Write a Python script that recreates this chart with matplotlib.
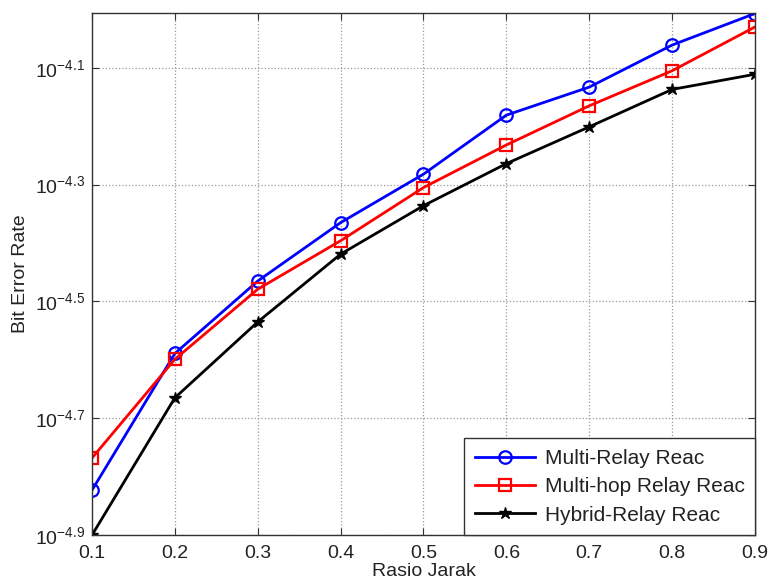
import matplotlib
matplotlib.use("Agg")
import matplotlib.pyplot as plt
from matplotlib.ticker import FixedLocator, NullLocator, FixedFormatter

plt.rcParams['font.family'] = ['Liberation Sans', 'DejaVu Sans']
plt.rcParams['mathtext.fontset'] = 'custom'
plt.rcParams['mathtext.rm'] = 'Liberation Sans'
plt.rcParams['mathtext.it'] = 'Liberation Sans'

x = [0.1, 0.2, 0.3, 0.4, 0.5, 0.6, 0.7, 0.8, 0.9]
multi_relay = [1.503e-5, 2.576e-5, 3.428e-5, 4.315e-5, 5.224e-5, 6.592e-5, 7.362e-5, 8.690e-5, 9.840e-5]
multi_hop = [1.706e-5, 2.518e-5, 3.319e-5, 4.018e-5, 4.955e-5, 5.861e-5, 6.839e-5, 7.852e-5, 9.333e-5]
hybrid = [1.259e-5, 2.163e-5, 2.917e-5, 3.811e-5, 4.613e-5, 5.445e-5, 6.295e-5, 7.295e-5, 7.745e-5]
labels = ['Multi-Relay Reac', 'Multi-hop Relay Reac', 'Hybrid-Relay Reac']
ytick_exp = [-4.9, -4.7, -4.5, -4.3, -4.1]
ytick_labels = [r'$10^{-4.9}$', r'$10^{-4.7}$', r'$10^{-4.5}$', r'$10^{-4.3}$', r'$10^{-4.1}$']

fig = plt.figure(figsize=(7.7, 5.88), dpi=100)
ax = fig.add_axes([0.1195, 0.090, 0.861, 0.888])

ax.plot(x, multi_relay, color='#0000ff', marker='o', markersize=9, markerfacecolor='none',
        markeredgewidth=1.6, linewidth=2, label=labels[0])
ax.plot(x, multi_hop, color='#ff0000', marker='s', markersize=8, markerfacecolor='none',
        markeredgewidth=1.6, linewidth=2, label=labels[1])
ax.plot(x, hybrid, color='black', marker='*', markersize=9, linewidth=2, label=labels[2])

ax.set_yscale('log')
ax.set_xlim(0.1, 0.9)
ax.set_ylim(10 ** -4.9, 10 ** -4.006)
ax.set_xticks(x)
ax.set_xticklabels([f'{v:.1f}' for v in x])
ax.yaxis.set_major_locator(FixedLocator([10 ** e for e in ytick_exp]))
ax.yaxis.set_major_formatter(FixedFormatter(ytick_labels))
ax.yaxis.set_minor_locator(NullLocator())

ax.tick_params(direction='in', top=True, right=True, labelsize=14, length=5, color='#333333',
               labelcolor='#222222')
ax.tick_params(axis='x', pad=7)
ax.tick_params(axis='y', pad=5)
ax.grid(True, linestyle=':', color='#999999', linewidth=0.9)
for s in ax.spines.values():
    s.set_color('#333333')
    s.set_linewidth(1.0)

ax.set_xlabel('Rasio Jarak', fontsize=14, labelpad=1, color='#222222')
ax.set_ylabel('Bit Error Rate', fontsize=14, labelpad=4, color='#222222')

leg = ax.legend(loc='lower right', fontsize=15, fancybox=False, edgecolor='#333333',
                framealpha=1, borderaxespad=0, handlelength=2.9, borderpad=0.5,
                labelspacing=0.45, handletextpad=0.45)
leg.get_frame().set_linewidth(1.0)
for t in leg.get_texts():
    t.set_color('#222222')

fig.savefig('out.png', dpi=100)
